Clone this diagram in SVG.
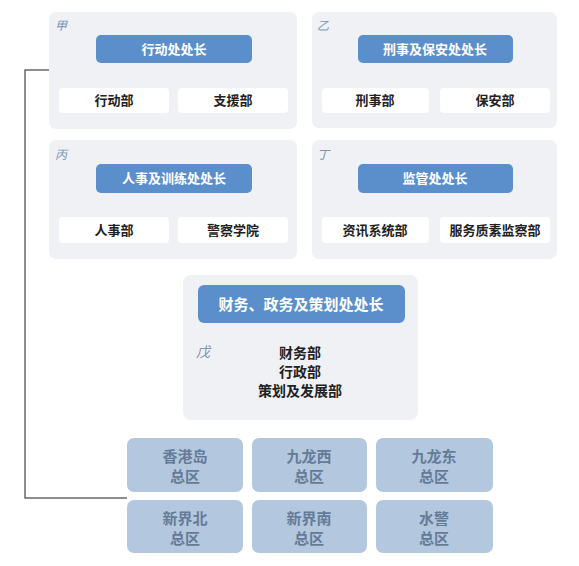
<svg xmlns="http://www.w3.org/2000/svg" width="579" height="566" viewBox="0 0 579 566">
<style>
.panel{fill:#f0f1f4}
.hdr{fill:#5b8fcb}
.sub{fill:#ffffff}
.reg{fill:#b3c7de}
text{font-family:"Noto Sans CJK SC","Noto Sans CJK TC",sans-serif;font-weight:bold;text-anchor:middle}
.ht{fill:#ffffff;font-size:13px}
.st{fill:#222222;font-size:13px}
.lb{fill:#7b95b6;font-size:12px;font-style:italic;font-weight:normal;text-anchor:start}
.rt{fill:#647b98;font-size:15px}
.ln{fill:none;stroke:#6a6a6a;stroke-width:1.5}
</style>
<rect width="579" height="566" fill="#ffffff"/>
<g id="connectors">
<path class="ln" d="M49,70 H25 V498 H127"/>
</g>
<g id="jia">
<rect class="panel" x="49" y="12" width="248" height="117" rx="7"/>
<text class="lb" x="55" y="30">甲</text>
<rect class="hdr" x="96" y="35" width="156" height="28" rx="5"/>
<text class="ht" x="174" y="54">行动处处长</text>
<rect class="sub" x="59" y="88" width="110" height="25" rx="4"/>
<text class="st" x="114" y="105">行动部</text>
<rect class="sub" x="178" y="88" width="110" height="25" rx="4"/>
<text class="st" x="233" y="105">支援部</text>
</g>
<g id="yi">
<rect class="panel" x="312" y="12" width="245" height="116" rx="7"/>
<text class="lb" x="317" y="30">乙</text>
<rect class="hdr" x="358" y="35" width="155" height="28" rx="5"/>
<text class="ht" x="435" y="54">刑事及保安处处长</text>
<rect class="sub" x="322" y="88" width="107" height="25" rx="4"/>
<text class="st" x="375" y="105">刑事部</text>
<rect class="sub" x="440" y="88" width="110" height="25" rx="4"/>
<text class="st" x="495" y="105">保安部</text>
</g>
<g id="bing">
<rect class="panel" x="49" y="140" width="248" height="119" rx="7"/>
<text class="lb" x="55" y="159">丙</text>
<rect class="hdr" x="96" y="164" width="156" height="29" rx="5"/>
<text class="ht" x="174" y="183">人事及训练处处长</text>
<rect class="sub" x="59" y="217" width="110" height="26" rx="4"/>
<text class="st" x="114" y="235">人事部</text>
<rect class="sub" x="178" y="217" width="110" height="26" rx="4"/>
<text class="st" x="233" y="235">警察学院</text>
</g>
<g id="ding">
<rect class="panel" x="312" y="140" width="245" height="119" rx="7"/>
<text class="lb" x="317" y="159">丁</text>
<rect class="hdr" x="358" y="164" width="155" height="29" rx="5"/>
<text class="ht" x="435" y="183">监管处处长</text>
<rect class="sub" x="322" y="217" width="107" height="26" rx="4"/>
<text class="st" x="375" y="235">资讯系统部</text>
<rect class="sub" x="440" y="217" width="110" height="26" rx="4"/>
<text class="st" x="495" y="235">服务质素监察部</text>
</g>
<g id="wu">
<rect class="panel" x="183" y="275" width="235" height="145" rx="8"/>
<rect class="hdr" x="198" y="285" width="207" height="38" rx="6"/>
<text class="ht" x="301" y="310" style="font-size:15px">财务、政务及策划处处长</text>
<text class="lb" x="196" y="357" style="font-size:14px">戊</text>
<text class="st" x="300" y="358" style="font-size:14px">财务部</text>
<text class="st" x="300" y="377" style="font-size:14px">行政部</text>
<text class="st" x="300" y="396" style="font-size:14px">策划及发展部</text>
</g>
<g id="hki">
<rect class="reg" x="127" y="438" width="116" height="54" rx="7"/>
<text class="rt" x="185" y="462">香港岛</text>
<text class="rt" x="185" y="482">总区</text>
</g>
<g id="klw">
<rect class="reg" x="252" y="438" width="115" height="54" rx="7"/>
<text class="rt" x="309" y="462">九龙西</text>
<text class="rt" x="309" y="482">总区</text>
</g>
<g id="kle">
<rect class="reg" x="376" y="438" width="117" height="54" rx="7"/>
<text class="rt" x="434" y="462">九龙东</text>
<text class="rt" x="434" y="482">总区</text>
</g>
<g id="ntn">
<rect class="reg" x="127" y="500" width="116" height="53" rx="7"/>
<text class="rt" x="185" y="524">新界北</text>
<text class="rt" x="185" y="544">总区</text>
</g>
<g id="nts">
<rect class="reg" x="252" y="500" width="115" height="53" rx="7"/>
<text class="rt" x="309" y="524">新界南</text>
<text class="rt" x="309" y="544">总区</text>
</g>
<g id="marine">
<rect class="reg" x="376" y="500" width="117" height="53" rx="7"/>
<text class="rt" x="434" y="524">水警</text>
<text class="rt" x="434" y="544">总区</text>
</g>
</svg>
